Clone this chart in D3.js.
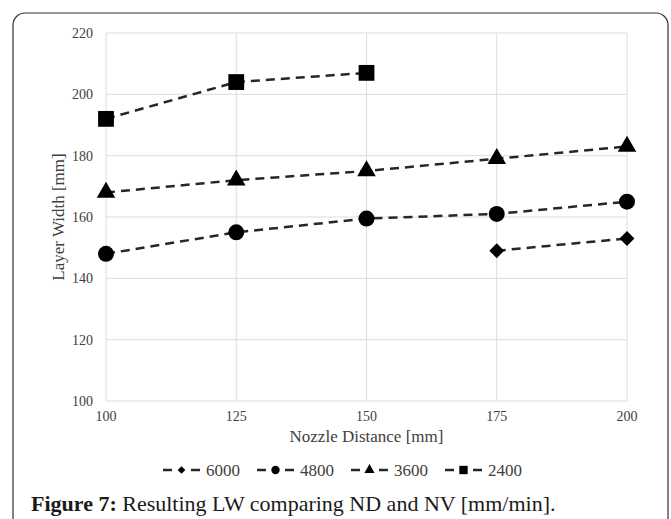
<!DOCTYPE html>
<html>
<head>
<meta charset="utf-8">
<script src="https://cdn.jsdelivr.net/npm/d3@7"></script>
<style>
  body { margin: 0; background: #fff; }
  svg { display: block; font-family: "Liberation Serif", "DejaVu Serif", serif; }
</style>
</head>
<body>
<svg width="671" height="519"></svg>
<script>
// nozzle distance on x, layer width on y
var distances = [100, 125, 150, 175, 200];
var yTicks = [100, 120, 140, 160, 180, 200, 220];
var seriesNames = ["6000", "4800", "3600", "2400"];
var s6000 = [null, null, null, 149, 153];
var s4800 = [148, 155, 159.5, 161, 165];
var s3600 = [168, 172, 175, 179, 183];
var s2400 = [192, 204, 207, null, null];
var caption = "Resulting LW comparing ND and NV [mm/min].";

// diamond = square turned 45 degrees
var series = [
  { name: seriesNames[0], vals: s6000, sym: d3.symbolSquare, rot: 45, size: 110, lsize: 30 },
  { name: seriesNames[1], vals: s4800, sym: d3.symbolCircle, rot: 0, size: 200, lsize: 55 },
  { name: seriesNames[2], vals: s3600, sym: d3.symbolTriangle, rot: 0, size: 150, lsize: 45 },
  { name: seriesNames[3], vals: s2400, sym: d3.symbolSquare, rot: 0, size: 250, lsize: 70 }
];

var svg = d3.select("svg");

// outer frame
svg.append("rect")
  .attr("x", 13).attr("y", 13)
  .attr("width", 655).attr("height", 540)
  .attr("rx", 12)
  .attr("fill", "none")
  .attr("stroke", "#333")
  .attr("stroke-width", 1.2);

var x = d3.scaleLinear().domain([100, 200]).range([106, 627]);
var y = d3.scaleLinear().domain([100, 220]).range([401, 33]);

var grid = svg.append("g");
grid.selectAll("line.h")
  .data(yTicks)
  .enter().append("line")
  .attr("x1", x(100)).attr("x2", x(200))
  .attr("y1", d => y(d)).attr("y2", d => y(d))
  .attr("stroke", "#dcdcdc").attr("stroke-width", 1);
grid.selectAll("line.v")
  .data(distances)
  .enter().append("line")
  .attr("y1", y(100)).attr("y2", y(220))
  .attr("x1", d => x(d)).attr("x2", d => x(d))
  .attr("stroke", "#dcdcdc").attr("stroke-width", 1);

// y ticks
svg.append("g")
  .attr("transform", "translate(" + (x(100) - 13) + ",0)")
  .selectAll("text")
  .data(yTicks)
  .enter().append("text")
  .attr("y", d => y(d) + 5)
  .attr("text-anchor", "end")
  .attr("font-size", 14)
  .attr("fill", "#404040")
  .text(d => d);

// x ticks
svg.append("g")
  .selectAll("text")
  .data(distances)
  .enter().append("text")
  .attr("x", d => x(d))
  .attr("y", 421)
  .attr("text-anchor", "middle")
  .attr("font-size", 14)
  .attr("fill", "#404040")
  .text(d => d);

svg.append("text")
  .attr("x", (x(100) + x(200)) / 2)
  .attr("y", 442)
  .attr("text-anchor", "middle")
  .attr("font-size", 17)
  .attr("fill", "#404040")
  .text("Nozzle Distance [mm]");

svg.append("text")
  .attr("transform", "translate(64," + ((y(100) + y(220)) / 2) + ") rotate(-90)")
  .attr("text-anchor", "middle")
  .attr("font-size", 17)
  .attr("fill", "#404040")
  .text("Layer Width [mm]");

var line = d3.line()
  .defined(d => d.v != null)
  .x(d => x(d.d))
  .y(d => y(d.v));

series.forEach(function (s) {
  var pts = distances.map((d, i) => ({ d: d, v: s.vals[i] }));
  svg.append("path")
    .datum(pts)
    .attr("d", line)
    .attr("fill", "none")
    .attr("stroke", "#262626")
    .attr("stroke-width", 2.5)
    .attr("stroke-dasharray", "9,6");
  svg.append("g")
    .selectAll("path")
    .data(pts.filter(p => p.v != null))
    .enter().append("path")
    .attr("transform", p => "translate(" + x(p.d) + "," + y(p.v) + ") rotate(" + s.rot + ")")
    .attr("d", d3.symbol().type(s.sym).size(s.size))
    .attr("fill", "#000");
});

// legend
var legend = svg.append("g").attr("transform", "translate(163,470)");
var lg = legend.selectAll("g")
  .data(series)
  .enter().append("g")
  .attr("transform", (d, i) => "translate(" + (i * 94) + ",0)");
lg.append("line")
  .attr("x1", 0).attr("x2", 9)
  .attr("stroke", "#262626").attr("stroke-width", 2.5);
lg.append("line")
  .attr("x1", 28).attr("x2", 37)
  .attr("stroke", "#262626").attr("stroke-width", 2.5);
lg.append("path")
  .attr("transform", d => "translate(18.5,0) rotate(" + d.rot + ")")
  .attr("d", d => d3.symbol().type(d.sym).size(d.lsize)())
  .attr("fill", "#000");
lg.append("text")
  .attr("x", 43)
  .attr("y", 6)
  .attr("font-size", 17)
  .attr("fill", "#404040")
  .text(d => d.name);

var cap = svg.append("text")
  .attr("x", 31)
  .attr("y", 511)
  .attr("font-size", 22)
  .attr("fill", "#1a1a1a");
cap.append("tspan").attr("font-weight", "bold").text("Figure 7:");
cap.append("tspan").text(" " + caption);
</script>
</body>
</html>
